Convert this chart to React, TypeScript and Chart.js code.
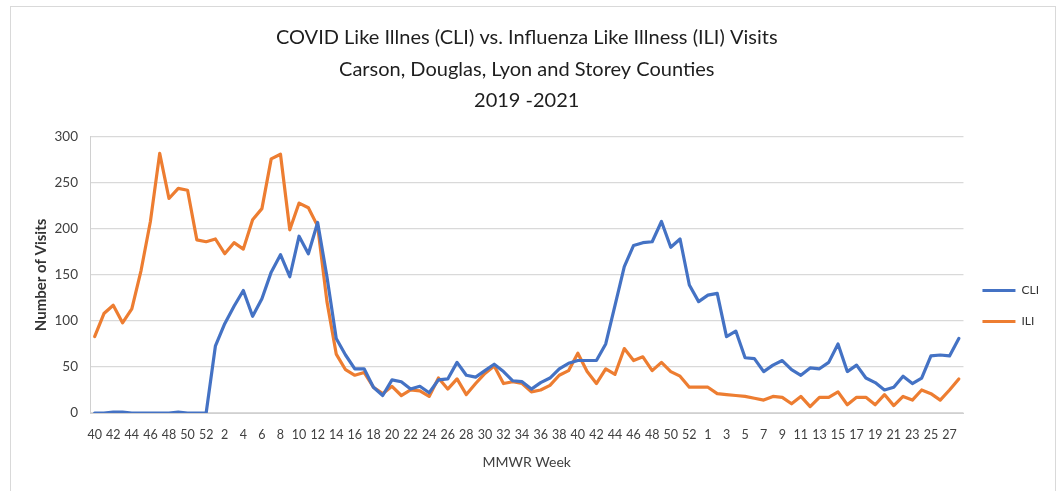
import React, { useEffect, useRef } from 'react';
import { Chart, registerables } from 'chart.js';

Chart.register(...registerables);

const titleLines = [
  'COVID Like Illnes (CLI) vs. Influenza Like Illness (ILI) Visits',
  'Carson, Douglas, Lyon and Storey Counties',
  '2019 -2021',
];

// MMWR weeks: 2019 wk 40-52, 2020 wk 1-53, 2021 wk 1-28
const weekLabels = [
  '40', '41', '42', '43', '44', '45', '46', '47', '48', '49', '50', '51', '52',
  '1', '2', '3', '4', '5', '6', '7', '8', '9', '10', '11', '12', '13', '14', '15', '16', '17', '18', '19', '20',
  '21', '22', '23', '24', '25', '26', '27', '28', '29', '30', '31', '32', '33', '34', '35', '36', '37', '38', '39', '40',
  '41', '42', '43', '44', '45', '46', '47', '48', '49', '50', '51', '52', '53',
  '1', '2', '3', '4', '5', '6', '7', '8', '9', '10', '11', '12', '13', '14', '15', '16', '17', '18', '19', '20',
  '21', '22', '23', '24', '25', '26', '27', '28',
];

const cliVisits = [
  0, 0, 1, 1, 0, 0, 0, 0, 0, 1, 0, 0, 0,
  73, 97, 116, 133, 105, 124, 153, 172, 148, 192, 173, 207, 148, 81, 63, 48, 48, 28, 19, 36,
  34, 26, 29, 22, 36, 37, 55, 41, 39, 46, 53, 45, 35, 34, 26, 33, 38, 48, 54, 57,
  57, 57, 75, 117, 159, 182, 185, 186, 208, 180, 189, 139, 121,
  128, 130, 83, 89, 60, 59, 45, 52, 57, 47, 41, 49, 48, 55, 75, 45, 52, 38, 33, 25,
  28, 40, 32, 38, 62, 63, 62, 81,
];

const iliVisits = [
  83, 108, 117, 98, 113, 155, 208, 282, 233, 244, 242, 188, 186,
  189, 173, 185, 178, 210, 222, 276, 281, 199, 228, 223, 203, 121, 64, 47, 41, 44, 28, 21, 29,
  19, 25, 24, 18, 38, 26, 37, 20, 32, 43, 51, 32, 34, 32, 23, 25, 30, 41, 46, 65,
  45, 32, 48, 42, 70, 57, 61, 46, 55, 45, 40, 28, 28,
  28, 21, 20, 19, 18, 16, 14, 18, 17, 10, 18, 7, 17, 17, 23, 9, 17, 17, 9, 20,
  8, 18, 14, 25, 21, 14, 25, 37,
];

const yMin = 0;
const yMax = 300;
const yStep = 50;

const FONT = 'Lato, "Open Sans", sans-serif';

export default function App() {
  const ref = useRef<HTMLCanvasElement>(null);

  useEffect(() => {
    if (!ref.current) return;
    const chart = new Chart(ref.current, {
      type: 'line',
      data: {
        labels: weekLabels,
        datasets: [
          {
            label: 'CLI',
            data: cliVisits,
            borderColor: '#4472C4',
            backgroundColor: '#4472C4',
            borderWidth: 3.2,
            pointRadius: 0,
            tension: 0,
            borderJoinStyle: 'round',
            borderCapStyle: 'round',
          },
          {
            label: 'ILI',
            data: iliVisits,
            borderColor: '#ED7D31',
            backgroundColor: '#ED7D31',
            borderWidth: 3.2,
            pointRadius: 0,
            tension: 0,
            borderJoinStyle: 'round',
            borderCapStyle: 'round',
          },
        ],
      },
      options: {
        animation: false,
        responsive: false,
        maintainAspectRatio: false,
        layout: { padding: { left: 20, right: 11, top: 10, bottom: 0 } },
        plugins: {
          tooltip: { enabled: false },
          title: {
            display: true,
            fullSize: false,
            text: titleLines,
            color: '#1e1e1e',
            font: { family: FONT, size: 20, weight: 'normal', lineHeight: 1.58 },
            padding: { top: 12, bottom: 20 },
          },
          legend: {
            position: 'right',
            fullSize: false,
            title: { display: true, text: ' ', padding: 24, font: { size: 12 } },
            labels: {
              boxWidth: 33,
              boxHeight: 3,
              padding: 19,
              color: '#333',
              font: { family: FONT, size: 12 },
              generateLabels: (c: any) =>
                Chart.defaults.plugins.legend.labels.generateLabels(c).map((l: any) => ({
                  ...l,
                  lineWidth: 0,
                })),
            },
          },
        },
        scales: {
          x: {
            offset: true,
            grid: { display: false, drawTicks: false },
            border: { display: true, color: '#d0d0d0' },
            ticks: {
              autoSkip: false,
              maxRotation: 0,
              minRotation: 0,
              padding: 14,
              color: '#404040',
              font: { family: FONT, size: 12.5 },
              callback: (_v: any, i: number) => (i % 2 === 0 ? weekLabels[i] : ''),
            },
            title: {
              display: true,
              text: 'MMWR Week',
              color: '#404040',
              font: { family: FONT, size: 14 },
              padding: { top: 0, bottom: 20 },
            },
            afterFit: (s: any) => {
              s.height = 78;
            },
          },
          y: {
            min: yMin,
            max: yMax,
            ticks: {
              stepSize: yStep,
              padding: 12,
              color: '#404040',
              font: { family: FONT, size: 13.5 },
            },
            grid: { color: '#d9d9d9', lineWidth: 1.3, drawTicks: false },
            border: { display: true, color: '#d0d0d0' },
            title: {
              display: true,
              text: 'Number of Visits',
              color: '#333',
              font: { family: FONT, size: 15, weight: 'bold' },
              padding: { top: 12 },
            },
            afterFit: (s: any) => {
              s.width = 70;
            },
          },
        },
      },
    } as any);
    return () => chart.destroy();
  }, []);

  return (
    <div
      style={{
        position: 'absolute',
        left: 0,
        top: 0,
        width: 1060,
        height: 491,
        overflow: 'hidden',
        background: '#fff',
      }}
    >
      <div
        style={{
          position: 'absolute',
          left: 10,
          top: 6,
          width: 1046,
          height: 520,
          border: '1px solid #d9d9d9',
          boxSizing: 'border-box',
        }}
      />
      <canvas ref={ref} width={1060} height={491} style={{ position: 'absolute', left: 0, top: 0 }} />
    </div>
  );
}
